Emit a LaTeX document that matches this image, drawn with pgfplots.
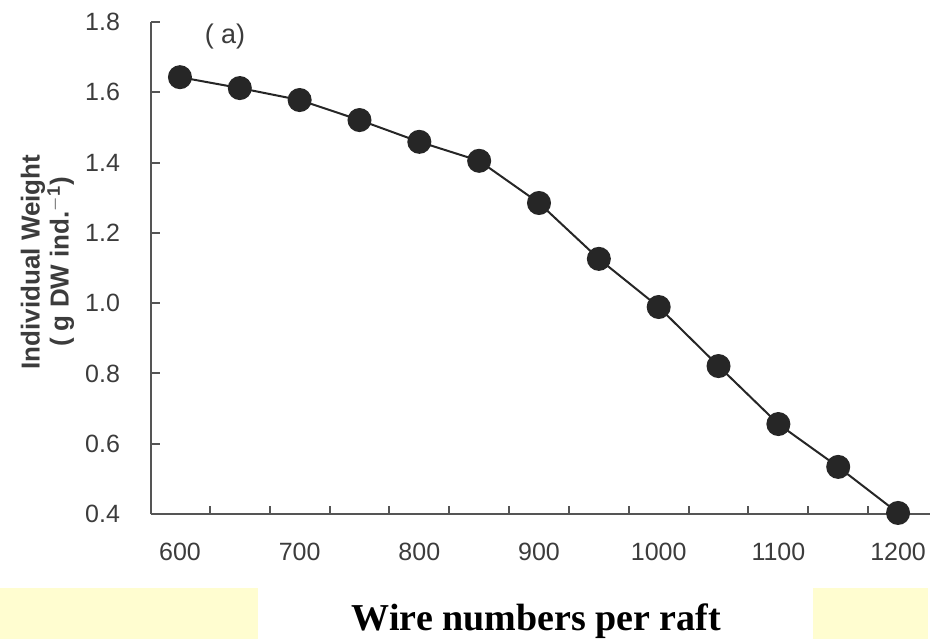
\documentclass[border=0pt]{standalone}
\usepackage{pgfplots}
\pgfplotsset{compat=1.18}
\usepackage{fontspec}
\setmainfont{Liberation Sans}
\newfontfamily\serifb{Liberation Serif}
\definecolor{axgray}{HTML}{555555}
\definecolor{txtgray}{HTML}{3c3c3c}
\definecolor{ptcol}{HTML}{262626}
\definecolor{paleyel}{RGB}{255,253,208}

\begin{document}
\begin{tikzpicture}
\path[use as bounding box] (0,0) rectangle (465pt,319.5pt);
\fill[paleyel] (0,0) rectangle (129pt,25.5pt);
\fill[paleyel] (406.5pt,0) rectangle (464pt,25.5pt);
\begin{axis}[
  at={(75.5pt,62.5pt)}, anchor=south west,
  scale only axis, width=389.5pt, height=246pt,
  xmin=575.8, xmax=1226.7, ymin=0.4, ymax=1.8,
  axis lines=left,
  axis line style={-, axgray, line width=1pt},
  xtick={600,700,800,900,1000,1100,1200},
  ytick={0.4,0.6,0.8,1.0,1.2,1.4,1.6,1.8},
  minor xtick={625,675,725,775,825,875,925,975,1025,1075,1125,1175},
  tick align=inside,
  major tick length=4.5pt, minor tick length=4pt,
  major x tick style={draw=none},
  minor x tick style={axgray, line width=1pt},
  major y tick style={axgray, line width=1pt},
  tick label style={font=\fontsize{12.5}{14}\selectfont, text=txtgray},
  /pgf/number format/assume math mode=true,
  /pgf/number format/1000 sep={},
  yticklabel style={/pgf/number format/fixed, /pgf/number format/precision=1, /pgf/number format/fixed zerofill},
  xticklabel shift=11pt, yticklabel shift=12pt,
  clip=false,
]
\addplot[color=ptcol, line width=1pt, mark=*, mark size=5.5pt,
  mark options={fill=ptcol, draw=ptcol}] coordinates {
  (600,1.643) (650,1.612) (700,1.578) (750,1.521) (800,1.459)
  (850,1.405) (900,1.285) (950,1.126) (1000,0.989) (1050,0.821)
  (1100,0.656) (1150,0.534) (1200,0.403)
};
\node[rotate=90, align=center, text=txtgray, font=\fontsize{13}{14.5}\selectfont\bfseries]
  at ([xshift=-51.75pt, yshift=3pt]rel axis cs:0,0.5)
  {Individual Weight\\( g DW ind.\textsuperscript{$-$1})};
\end{axis}
\node[text=txtgray, font=\fontsize{13.5}{15}\selectfont] at (112.5pt,301pt) {( a)};
\node[anchor=base, font=\fontsize{19}{22}\selectfont\serifb\bfseries] at (268.25pt,4.5pt) {Wire numbers per raft};
\end{tikzpicture}
\end{document}
